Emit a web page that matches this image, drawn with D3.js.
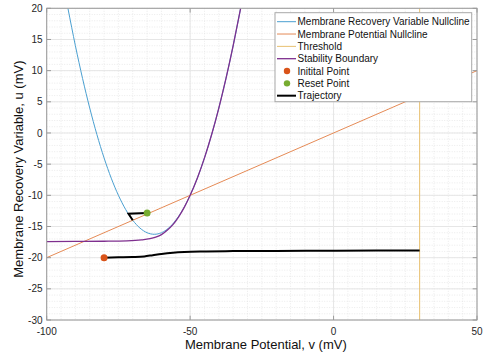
<!DOCTYPE html>
<html><head><meta charset="utf-8">
<script src="https://cdn.jsdelivr.net/npm/d3@7"></script>
<style>body{margin:0;background:#fff}svg{display:block;font-family:"Liberation Sans",Arial,sans-serif}</style>
</head><body><svg id="c" width="483" height="354"></svg>
<script>
// v-nullcline (parabola) points
const parabolaV = [-92.6,-90,-87.5,-85,-82.5,-80,-77.5,-75,-72.5,-70,-67.5,-65,-62.5,-60,-57.5,-55,-52.5,-50,-47.5,-45,-42.5,-40,-37.5,-35,-32.4];
const parabolaU = [20,14,8.75,4,-0.25,-4,-7.25,-10,-12.25,-14,-15.25,-16,-16.25,-16,-15.25,-14,-12.25,-10,-7.25,-4,-0.25,4,8.75,14,20];
// u-nullcline (straight line)
const lineV = [-100, 50];
const lineU = [-20, 10];
// threshold
const thresholdV = 30;
// stability boundary
const boundaryV = [-100,-90,-80,-72,-67,-64,-62,-60,-58,-56,-54,-52,-50,-47.5,-45,-42.5,-40,-37.5,-35,-32.4];
const boundaryU = [-17.42,-17.4,-17.37,-17.3,-17.15,-16.95,-16.7,-16.3,-15.6,-14.7,-13.45,-11.9,-10,-7.25,-4,-0.25,4,8.75,14,20];
// trajectory
const trajV1 = [-80,-75,-70,-66,-63,-60,-56,-52,-46,-35,-20,0,15,30];
const trajU1 = [-20,-19.95,-19.9,-19.8,-19.6,-19.4,-19.2,-19.08,-19.0,-18.95,-18.92,-18.88,-18.86,-18.85];
const trajV2 = [-65,-71.5,-70];
const trajU2 = [-12.85,-12.95,-14];
const initialPoint = [-80, -20];
const resetPoint = [-65, -12.85];
// ticks
const xTicks = [-100,-50,0,50];
const yTicks = [-30,-25,-20,-15,-10,-5,0,5,10,15,20];
const legendLabels = ["Membrane Recovery Variable Nullcline","Membrane Potential Nullcline","Threshold","Stability Boundary","Initital Point","Reset Point","Trajectory"];

const C = {blue:"#0072BD", orange:"#D95319", yellow:"#EDB120", purple:"#7E2F8E", green:"#77AC30"};
const svg = d3.select("#c");
const L=46.7, R=477, T=8.3, B=320;
const x = d3.scaleLinear().domain([-100,50]).range([L,R]);
const y = d3.scaleLinear().domain([-30,20]).range([B,T]);

svg.append("defs").append("clipPath").attr("id","clip").append("rect").attr("x",L).attr("y",T).attr("width",R-L).attr("height",B-T);

// minor grid
const g = svg.append("g");
g.selectAll(".mx").data(d3.range(-100,50.1,5)).join("line").attr("x1",d=>x(d)).attr("x2",d=>x(d)).attr("y1",T).attr("y2",B).attr("stroke","#dedede").attr("stroke-width",0.6).attr("stroke-dasharray","1,1.5");
g.selectAll(".my").data(d3.range(-30,20.1,1)).join("line").attr("y1",d=>y(d)).attr("y2",d=>y(d)).attr("x1",L).attr("x2",R).attr("stroke","#dedede").attr("stroke-width",0.6).attr("stroke-dasharray","1,1.5");
// major grid
g.selectAll(".gx").data(xTicks).join("line").attr("x1",d=>x(d)).attr("x2",d=>x(d)).attr("y1",T).attr("y2",B).attr("stroke","#e6e6e6").attr("stroke-width",1);
g.selectAll(".gy").data(yTicks).join("line").attr("y1",d=>y(d)).attr("y2",d=>y(d)).attr("x1",L).attr("x2",R).attr("stroke","#e6e6e6").attr("stroke-width",1);

const plot = svg.append("g").attr("clip-path","url(#clip)");
const ln = d3.line().x(d=>x(d[0])).y(d=>y(d[1]));
const lnS = d3.line().x(d=>x(d[0])).y(d=>y(d[1])).curve(d3.curveMonotoneX);

plot.append("path").attr("d",lnS(d3.zip(parabolaV,parabolaU))).attr("fill","none").attr("stroke","#4a9fd0").attr("stroke-width",1);
plot.append("path").attr("d",ln(d3.zip(lineV,lineU))).attr("fill","none").attr("stroke","#e58a55").attr("stroke-width",1);
plot.append("line").attr("x1",x(thresholdV)).attr("x2",x(thresholdV)).attr("y1",y(-30)).attr("y2",y(20)).attr("stroke","#e8c070").attr("stroke-width",1);
plot.append("path").attr("d",lnS(d3.zip(boundaryV,boundaryU))).attr("fill","none").attr("stroke",C.purple).attr("stroke-width",1.3);
plot.append("path").attr("d",lnS(d3.zip(trajV1,trajU1))).attr("fill","none").attr("stroke","#000").attr("stroke-width",2);
plot.append("path").attr("d",ln(d3.zip(trajV2,trajU2))).attr("fill","none").attr("stroke","#000").attr("stroke-width",2).attr("stroke-linejoin","miter");
plot.append("circle").attr("cx",x(initialPoint[0])).attr("cy",y(initialPoint[1])).attr("r",3.5).attr("fill",C.orange);
plot.append("circle").attr("cx",x(resetPoint[0])).attr("cy",y(resetPoint[1])).attr("r",3.5).attr("fill",C.green);

// axes box and ticks
const ax = svg.append("g");
ax.append("rect").attr("x",L).attr("y",T).attr("width",R-L).attr("height",B-T).attr("fill","none").attr("stroke","#9a9a9a").attr("stroke-width",1);
const tl=4.3;
xTicks.forEach(t=>{
  ax.append("line").attr("x1",x(t)).attr("x2",x(t)).attr("y1",B).attr("y2",B-tl).attr("stroke","#9a9a9a");
  ax.append("line").attr("x1",x(t)).attr("x2",x(t)).attr("y1",T).attr("y2",T+tl).attr("stroke","#9a9a9a");
});
yTicks.forEach(t=>{
  ax.append("line").attr("x1",L).attr("x2",L+tl).attr("y1",y(t)).attr("y2",y(t)).attr("stroke","#9a9a9a");
  ax.append("line").attr("x1",R).attr("x2",R-tl).attr("y1",y(t)).attr("y2",y(t)).attr("stroke","#9a9a9a");
});
ax.selectAll(".xt").data(xTicks).join("text").attr("x",d=>x(d)).attr("y",334.5).attr("text-anchor","middle").attr("font-size",10).attr("fill","#262626").text(d=>d);
ax.selectAll(".yt").data(yTicks).join("text").attr("x",42.5).attr("y",d=>y(d)+3.6).attr("text-anchor","end").attr("font-size",10).attr("fill","#262626").text(d=>d);
ax.append("text").attr("x",(L+R)/2+4).attr("y",349).attr("text-anchor","middle").attr("font-size",13).attr("fill","#111").text("Membrane Potential, v (mV)");
ax.append("text").attr("transform","translate(22.5,"+((T+B)/2+5)+") rotate(-90)").attr("text-anchor","middle").attr("font-size",13).attr("fill","#111").text("Membrane Recovery Variable, u (mV)");

// legend
const lg = svg.append("g");
lg.append("rect").attr("x",275).attr("y",12.7).attr("width",196.7).attr("height",89).attr("fill","#fff").attr("stroke","#a8a8a8").attr("stroke-width",1);
const styles = [
  {t:"line",c:"#4a9fd0",w:1},{t:"line",c:"#e58a55",w:1},{t:"line",c:"#e8c070",w:1},{t:"line",c:C.purple,w:1.3},
  {t:"dot",c:C.orange},{t:"dot",c:C.green},{t:"line",c:"#000",w:2}];
legendLabels.forEach((lab,i)=>{
  const cy = 21.7 + i*12.33;
  const s = styles[i];
  if(s.t==="line") lg.append("line").attr("x1",277).attr("x2",296).attr("y1",cy).attr("y2",cy).attr("stroke",s.c).attr("stroke-width",s.w);
  else lg.append("circle").attr("cx",287).attr("cy",cy).attr("r",3.2).attr("fill",s.c);
  lg.append("text").attr("x",297.5).attr("y",cy+3.6).attr("font-size",10).attr("fill","#111").text(lab);
});
</script></body></html>
